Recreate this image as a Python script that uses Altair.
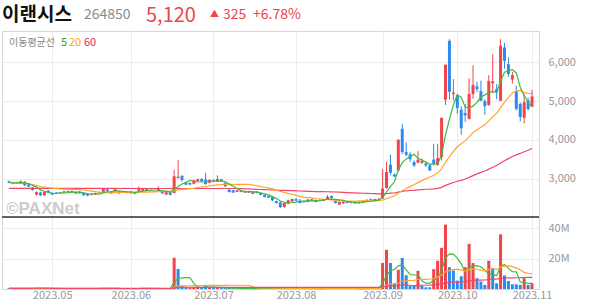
import altair as alt
import numpy as np
import pandas as pd

# ---------------- data ----------------
stock_name = "이랜시스"
stock_code = "264850"
holidays = ["2023-05-01", "2023-05-05", "2023-05-29", "2023-06-06", "2023-08-15",
            "2023-09-28", "2023-09-29", "2023-10-02", "2023-10-03", "2023-10-09"]
dates = [d for d in pd.bdate_range("2023-04-14", "2023-11-01")
         if d.strftime("%Y-%m-%d") not in holidays]

opens = [2930, 2900, 2900, 2880, 2920, 2845, 2775, 2590, 2640, 2570,
         2690, 2630, 2640, 2625, 2640, 2660, 2680, 2650, 2620, 2630,
         2610, 2580, 2590, 2650, 2640, 2725, 2620, 2670, 2670, 2640,
         2660, 2620, 2650, 2690, 2690, 2740, 2690, 2680, 2690, 2690,
         2590, 2650, 2630, 3020, 3070, 2905, 2890, 2870, 2940, 2990,
         2975, 2895, 2960, 2930, 2980, 2890, 2715, 2700, 2660, 2690,
         2640, 2680, 2610, 2670, 2630, 2585, 2550, 2525, 2420, 2385,
         2265, 2355, 2410, 2470, 2430, 2420, 2400, 2430, 2450, 2430,
         2430, 2470, 2550, 2430, 2330, 2360, 2410, 2370, 2400, 2360,
         2380, 2420, 2470, 2470, 2440, 2490, 2760, 3360, 3110, 3210,
         4285, 3685, 3630, 3430, 3410, 3410, 3390, 3340, 3490, 3360,
         3560, 5040, 6555, 5180, 5160, 4780, 4690, 4540, 5180, 5380,
         5260, 5000, 4900, 5460, 5310, 5010, 6385, 5955, 5560, 5250,
         4930, 4570, 5020, 4860]
highs = [2950, 2920, 2920, 2950, 2940, 2860, 2790, 2670, 2660, 2670,
         2700, 2650, 2650, 2660, 2690, 2700, 2690, 2660, 2680, 2640,
         2620, 2620, 2640, 2660, 2760, 2740, 2680, 2740, 2680, 2680,
         2670, 2680, 2660, 2800, 2750, 2760, 2720, 2690, 2800, 2700,
         2660, 2660, 3230, 3475, 3090, 2920, 2900, 2970, 3000, 3010,
         3150, 2980, 2980, 3085, 3000, 2900, 2730, 2710, 2710, 2700,
         2690, 2690, 2670, 2680, 2640, 2590, 2560, 2540, 2430, 2410,
         2380, 2460, 2480, 2500, 2480, 2430, 2470, 2480, 2460, 2460,
         2480, 2580, 2560, 2440, 2410, 2420, 2420, 2420, 2410, 2410,
         2430, 2470, 2490, 2480, 2490, 3250, 3430, 3620, 3130, 4020,
         4415, 3940, 3690, 3470, 3710, 3520, 3440, 3380, 3900, 3900,
         4570, 5940, 6600, 5570, 5190, 4870, 4930, 5590, 5930, 5500,
         5530, 5050, 5670, 6210, 5440, 6600, 6500, 6130, 5760, 5400,
         4960, 5190, 5100, 5290]
lows = [2880, 2860, 2870, 2870, 2810, 2780, 2690, 2560, 2550, 2560,
        2630, 2580, 2600, 2610, 2630, 2650, 2630, 2600, 2610, 2560,
        2550, 2570, 2580, 2620, 2630, 2660, 2610, 2660, 2610, 2630,
        2620, 2610, 2600, 2680, 2680, 2680, 2680, 2650, 2680, 2600,
        2580, 2570, 2620, 3000, 2920, 2830, 2830, 2850, 2930, 2920,
        2840, 2880, 2920, 2910, 2930, 2790, 2640, 2630, 2650, 2650,
        2630, 2630, 2600, 2620, 2570, 2520, 2500, 2420, 2360, 2240,
        2250, 2340, 2400, 2420, 2360, 2380, 2390, 2420, 2390, 2420,
        2420, 2460, 2490, 2360, 2320, 2350, 2360, 2360, 2350, 2350,
        2370, 2410, 2430, 2430, 2430, 2480, 2740, 3085, 3040, 3180,
        3640, 3580, 3430, 3300, 3400, 3380, 3300, 3200, 3340, 3325,
        3470, 4900, 5040, 5010, 4670, 4130, 4460, 4525, 5060, 5230,
        5000, 4650, 4880, 5210, 5050, 5010, 5840, 5630, 5450, 4760,
        4480, 4420, 4760, 4850]
closes = [2900, 2880, 2885, 2930, 2830, 2795, 2705, 2650, 2570, 2655,
          2645, 2590, 2620, 2645, 2670, 2680, 2640, 2615, 2660, 2575,
          2560, 2605, 2625, 2630, 2740, 2675, 2665, 2725, 2620, 2670,
          2635, 2660, 2615, 2740, 2740, 2685, 2710, 2660, 2740, 2620,
          2650, 2580, 3060, 3050, 2965, 2845, 2850, 2955, 2985, 2930,
          2860, 2965, 2930, 2990, 2940, 2800, 2655, 2640, 2700, 2660,
          2670, 2640, 2655, 2630, 2580, 2525, 2510, 2440, 2370, 2265,
          2370, 2440, 2475, 2430, 2370, 2390, 2460, 2470, 2400, 2450,
          2470, 2530, 2500, 2370, 2400, 2410, 2370, 2410, 2360, 2400,
          2420, 2450, 2450, 2440, 2470, 2745, 3170, 3150, 3060, 4000,
          3685, 3617, 3500, 3340, 3490, 3460, 3340, 3210, 3385, 3530,
          4570, 5940, 5240, 5220, 4820, 4300, 4630, 5185, 5420, 5310,
          5010, 4870, 5520, 5510, 5230, 6430, 6040, 5700, 5670, 4800,
          4590, 4970, 4795, 5120]
volume_m = [0.5, 0.4, 0.3, 0.4, 0.5, 0.6, 0.7, 0.6, 0.5, 0.4,
            0.4, 0.3, 0.3, 0.3, 0.4, 0.3, 0.3, 0.3, 0.3, 0.4,
            0.4, 0.3, 0.3, 0.3, 0.5, 0.4, 0.3, 0.4, 0.3, 0.3,
            0.3, 0.3, 0.3, 0.5, 0.4, 0.3, 0.3, 0.3, 0.4, 0.3,
            0.3, 0.3, 20.5, 13.2, 2.0, 1.2, 0.9, 1.0, 1.1, 0.8,
            2.4, 1.0, 0.7, 0.8, 0.6, 0.6, 0.7, 0.4, 0.3, 0.3,
            0.3, 0.3, 0.3, 0.3, 0.4, 0.4, 0.3, 0.5, 0.5, 0.7,
            0.5, 0.4, 0.4, 0.3, 0.4, 0.3, 0.3, 0.3, 0.3, 0.3,
            0.3, 0.4, 0.3, 0.3, 0.4, 0.3, 0.3, 0.3, 0.3, 0.3,
            0.3, 0.3, 0.4, 0.3, 0.4, 17.1, 25.8, 17.1, 3.6, 12.7,
            20.4, 9.1, 2.0, 2.0, 12.0, 2.2, 1.1, 1.1, 13.1, 18.6,
            27.1, 42.4, 14.4, 12.2, 5.5, 8.4, 14.4, 29.7, 17.1, 7.1,
            4.9, 2.7, 18.6, 13.8, 3.8, 36.0, 8.9, 5.3, 3.1, 3.1,
            2.7, 7.1, 2.7, 3.8]
# 60-day average before a full 60-day window is visible
ma60_early_idx = [0, 20, 40, 58]
ma60_early_val = [2750, 2750, 2745, 2745]
price_ticks = [3000, 4000, 5000, 6000]
volume_ticks = [20e6, 40e6]

# ---------------- tables ----------------
n = len(dates)
df = pd.DataFrame({"i": range(n), "date": dates, "open": opens, "high": highs,
                   "low": lows, "close": closes, "vol": np.array(volume_m) * 1e6})
df["dir"] = np.where(df["close"] >= df["open"], "up", "down")
prev = df["close"].shift(1).fillna(df["open"])
df["vdir"] = np.where(df["close"] >= prev, "up", "down")

c = df["close"]
ma5 = pd.DataFrame({"i": df["i"], "v": c.rolling(5, min_periods=1).mean()})
ma20 = pd.DataFrame({"i": df["i"], "v": c.rolling(20, min_periods=1).mean()})
m60 = c.rolling(60).mean()
ma60 = pd.concat([pd.DataFrame({"i": ma60_early_idx, "v": ma60_early_val}),
                  pd.DataFrame({"i": df["i"][59:], "v": m60[59:]})])
v = df["vol"]
vma5 = pd.DataFrame({"i": df["i"], "v": v.rolling(5, min_periods=1).mean()})
vma20 = pd.DataFrame({"i": df["i"], "v": v.rolling(20, min_periods=1).mean()})
vma60 = pd.DataFrame({"i": df["i"], "v": v.rolling(60, min_periods=1).mean()})

first = df.groupby(df["date"].dt.to_period("M"))["i"].min()
tick_idx = [int(t) for t in first.values if t > 0]
tick_lab = [df.loc[t, "date"].strftime("%Y.%m") for t in tick_idx]
label_expr = "".join(f"datum.value == {t} ? '{l}' : " for t, l in zip(tick_idx, tick_lab)) + "''"

last, before = closes[-1], closes[-2]
chg = last - before
pct = chg / before * 100
one = pd.DataFrame({"k": [0]})

# ---------------- style ----------------
W, HH, HP, HV = 537, 30, 186, 72
RED, BLUE = "#f0434b", "#2a8bef"
GREEN, ORANGE, PINK = "#3dbb3d", "#ffa62b", "#f2466a"
GRID = "#ececec"
LAB = "#999999"

xs = alt.Scale(domain=[-0.5, n - 0.5], nice=False, zero=False)
xa_price = alt.Axis(values=tick_idx, labels=False, ticks=False, domain=False,
                    grid=True, gridColor=GRID, title=None)
xa_vol = alt.Axis(values=tick_idx, labelExpr=label_expr, ticks=False, domain=False,
                  grid=True, gridColor=GRID, title=None, labelColor=LAB,
                  labelFontSize=11, labelFlush=False, labelOverlap=False, labelPadding=0)
ys_p = alt.Scale(domain=[2010, 6810], nice=False, zero=False)
ya_p = alt.Axis(orient="right", values=price_ticks, labelExpr="format(datum.value, ',')",
                labelColor=LAB, labelFontSize=11, ticks=False, domain=False, grid=True,
                gridColor=GRID, title=None, labelPadding=9)
ys_v = alt.Scale(domain=[0, 47.4e6], nice=False)
ya_v = alt.Axis(orient="right", values=volume_ticks, labelExpr="datum.value / 1000000 + 'M'",
                labelColor=LAB, labelFontSize=11, ticks=False, domain=False, grid=True,
                gridColor=GRID, title=None, labelPadding=9)

X = alt.X("i:Q", scale=xs, axis=xa_price)
XV = alt.X("i:Q", scale=xs, axis=xa_vol)
dir_col = alt.Color("dir:N", scale=alt.Scale(domain=["up", "down"], range=[RED, BLUE]), legend=None)
vdir_col = alt.Color("vdir:N", scale=alt.Scale(domain=["up", "down"], range=[RED, BLUE]), legend=None)


def txt(s, x, y, size, color, weight="normal", font="Noto Sans CJK KR"):
    return alt.Chart(one).mark_text(text=s, align="left", baseline="alphabetic",
                                    fontSize=size, color=color, fontWeight=weight,
                                    font=font).encode(x=alt.value(x), y=alt.value(y))


# ---------------- header ----------------
header = alt.layer(
    txt(stock_name, 0, 20, 19, "#111111", "bold"),
    txt(stock_code, 82, 18, 14, "#8a8a8a"),
    txt(f"{last:,}", 144, 21, 20, RED),
    txt("▲", 208, 16, 9, RED),
    txt(f"{chg:,}", 221, 18, 14, RED),
    txt(f"+{pct:.2f}%", 251, 18, 14, RED),
).properties(width=W, height=HH, view=alt.ViewBackground(stroke="transparent"))

# ---------------- price panel ----------------
wm = txt("©PAXNet", 4, 183, 17, "#cccccc", "bold", "Liberation Sans")
lg = alt.layer(
    txt("이동평균선", 7, 15, 10, "#888888"),
    txt("5", 59, 15, 11, "#22aa22"),
    txt("20", 67, 15, 11, "#ffa01a"),
    txt("60", 82, 15, 11, "#e8195a"),
)
wick = alt.Chart(df).mark_rule(strokeWidth=1).encode(
    x=X, y=alt.Y("low:Q", scale=ys_p, axis=ya_p), y2="high:Q", color=dir_col)
body = alt.Chart(df).mark_bar(size=3).encode(
    x=X, y=alt.Y("open:Q", scale=ys_p, axis=ya_p), y2="close:Q", color=dir_col)


def mline(d, color, ys, ya, xx):
    return alt.Chart(d).mark_line(strokeWidth=1.2, color=color).encode(
        x=xx, y=alt.Y("v:Q", scale=ys, axis=ya))


price = alt.layer(
    wm, lg, wick, body,
    mline(ma60, PINK, ys_p, ya_p, X),
    mline(ma20, ORANGE, ys_p, ya_p, X),
    mline(ma5, GREEN, ys_p, ya_p, X),
).properties(width=W, height=HP)

# ---------------- volume panel ----------------
vbar = alt.Chart(df).mark_bar(size=3).encode(
    x=XV, y=alt.Y("vol:Q", scale=ys_v, axis=ya_v), color=vdir_col)
topline = alt.Chart(one).mark_rule(color="#333333", strokeWidth=1.5).encode(
    x=alt.value(0), x2=alt.value(W), y=alt.value(0))
volume = alt.layer(
    vbar,
    mline(vma5, GREEN, ys_v, ya_v, XV),
    mline(vma20, ORANGE, ys_v, ya_v, XV),
    mline(vma60, PINK, ys_v, ya_v, XV),
    topline,
).properties(width=W, height=HV)

chart = alt.vconcat(header, price, volume, spacing=0, bounds="flush").properties(
    padding={"left": 0, "top": 0, "right": 0, "bottom": 0}
).configure(font="Noto Sans CJK KR").configure_view(stroke="#d6d6d6")

chart.save("out.html", embed_options={"renderer": "svg", "actions": False})
